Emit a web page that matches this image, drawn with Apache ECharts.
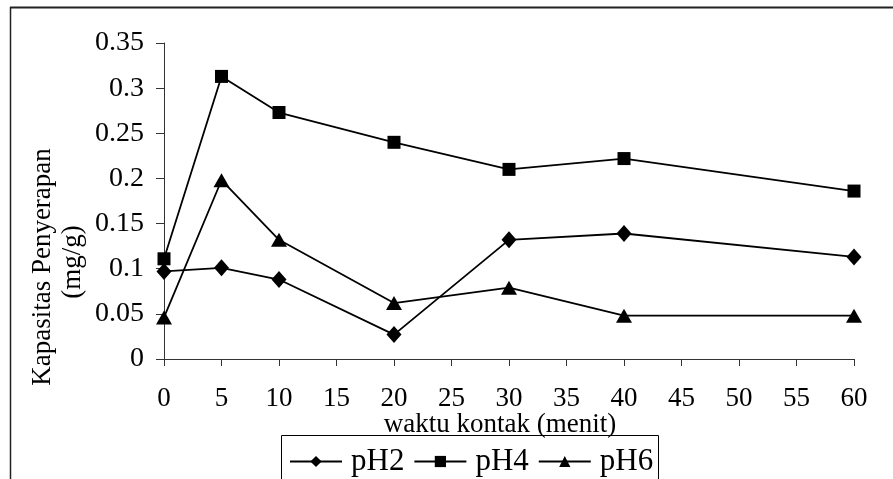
<!DOCTYPE html>
<html>
<head>
<meta charset="utf-8">
<script src="https://cdn.jsdelivr.net/npm/echarts@6/dist/echarts.min.js"></script>
<style>
  html, body { margin: 0; padding: 0; background: #fff; }
  #chart { width: 893px; height: 479px; }
</style>
</head>
<body>
<div id="chart"></div>
<script>
// Contact time (minutes) and adsorption capacity (mg/g) per pH
const waktu = [0, 5, 10, 20, 30, 40, 60];
const pH2 = [0.097, 0.101, 0.088, 0.027, 0.132, 0.139, 0.113];
const pH4 = [0.111, 0.313, 0.273, 0.240, 0.210, 0.222, 0.186];
const pH6 = [0.046, 0.198, 0.132, 0.062, 0.079, 0.048, 0.048];
const seriesNames = ['pH2', 'pH4', 'pH6'];
const xTitle = 'waktu kontak (menit)';
const yTitle = ['Kapasitas Penyerapan', '(mg/g)'];

const FONT = '"Liberation Serif", "Times New Roman", serif';

function pairs(vals) {
  return waktu.map((t, i) => [t, vals[i]]);
}

function lineSeries(name, vals, symbol, size) {
  return {
    name: name,
    type: 'line',
    data: pairs(vals),
    symbol: symbol,
    symbolSize: size,
    showAllSymbol: true,
    lineStyle: { color: '#000', width: 1.8 },
    itemStyle: { color: '#000' },
    emphasis: { disabled: true },
    animation: false
  };
}

const chart = echarts.init(document.getElementById('chart'), null, { renderer: 'canvas' });

chart.setOption({
  backgroundColor: '#fff',
  animation: false,
  grid: { left: 164, right: 39, top: 43, bottom: 120 },
  xAxis: {
    type: 'value',
    min: 0, max: 60, interval: 5,
    axisLine: { lineStyle: { color: '#333', width: 1 } },
    axisTick: { show: true, inside: false, length: 7, lineStyle: { color: '#333' } },
    axisLabel: { fontFamily: FONT, fontSize: 27, color: '#000', margin: 26 },
    splitLine: { show: false }
  },
  yAxis: {
    type: 'value',
    min: 0, max: 0.35, interval: 0.05,
    axisLine: { show: true, lineStyle: { color: '#333', width: 1 } },
    axisTick: { show: true, inside: false, length: 8, lineStyle: { color: '#333' } },
    axisLabel: { fontFamily: FONT, fontSize: 28, color: '#000', margin: 20 },
    splitLine: { show: false }
  },
  legend: {
    data: seriesNames,
    left: 289,
    top: 446,
    orient: 'horizontal',
    itemWidth: 52,
    itemHeight: 14,
    itemGap: 9,
    padding: 0,
    textStyle: { fontFamily: FONT, fontSize: 31, color: '#000', padding: [0, 0, 0, 4] }
  },
  series: [
    lineSeries(seriesNames[0], pH2, 'diamond', [15, 17]),
    lineSeries(seriesNames[1], pH4, 'rect', 13),
    lineSeries(seriesNames[2], pH6, 'triangle', [16, 14])
  ],
  graphic: [
    // outer frame (top and left edges visible)
    { type: 'line', shape: { x1: 10, y1: 7.5, x2: 893, y2: 7.5 }, style: { stroke: '#222', lineWidth: 2 }, silent: true },
    { type: 'line', shape: { x1: 10.5, y1: 7, x2: 10.5, y2: 479 }, style: { stroke: '#222', lineWidth: 1.5 }, silent: true },
    // legend frame
    { type: 'polyline', shape: { points: [[281.5, 479], [281.5, 435.5], [658.5, 435.5], [658.5, 479]] }, style: { stroke: '#000', lineWidth: 1, fill: null }, silent: true },
    // y-axis title
    {
      type: 'text', x: 43, y: 267, rotation: Math.PI / 2,
      style: { text: yTitle[0], fontFamily: FONT, fontSize: 27, fill: '#000', align: 'center', verticalAlign: 'middle' },
      silent: true
    },
    {
      type: 'text', x: 73, y: 262, rotation: Math.PI / 2,
      style: { text: yTitle[1], fontFamily: FONT, fontSize: 27, fill: '#000', align: 'center', verticalAlign: 'middle' },
      silent: true
    },
    // x-axis title
    {
      type: 'text', x: 500, y: 425,
      style: { text: xTitle, fontFamily: FONT, fontSize: 27, fill: '#000', align: 'center', verticalAlign: 'middle' },
      silent: true
    }
  ]
});
</script>
</body>
</html>
